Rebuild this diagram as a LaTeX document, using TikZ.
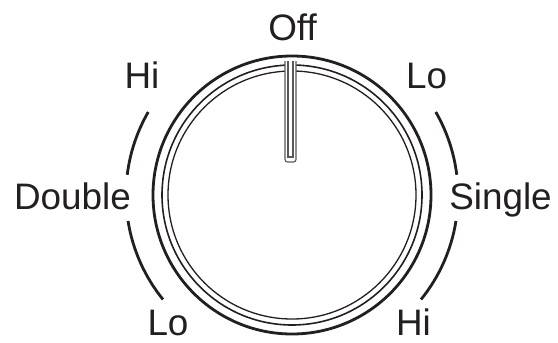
\documentclass[tikz,border=0pt]{standalone}
\usepackage{fontspec}
\setmainfont{Liberation Sans}
\definecolor{ink}{HTML}{231F20}
\begin{document}
\begin{tikzpicture}[x=1bp,y=1bp,
  lbl/.style={anchor=base,inner sep=0pt,text=ink,font=\fontsize{37}{40}\selectfont},
  arcline/.style={draw=ink,line width=2.8bp},
  ringA/.style={draw=ink,line width=2.8bp},
  ringB/.style={draw=ink,line width=1.6bp},
  ringC/.style={draw=ink,line width=1.3bp},
  ptr/.style={draw=ink!75,fill=white,line width=1.1bp}]
\useasboundingbox (0,0) rectangle (558,342);
\coordinate (c) at (292,147);
% rings
\draw[ringA] (c) circle[radius=139];
\draw[ringB] (c) circle[radius=130];
\draw[ringC] (c) circle[radius=124];
% pointer
\draw[ptr,rounded corners=2.5bp] (285,281) -- (285,180) -- (296,180) -- (296,281);
\draw[ptr] (288,281) -- (288,185) -- (293,185) -- (293,281);
% scale arcs
\draw[arcline] (c) ++(150:166) arc[start angle=150,end angle=173,radius=166];
\draw[arcline] (c) ++(189:166) arc[start angle=189,end angle=219,radius=166];
\draw[arcline] (c) ++(30:166) arc[start angle=30,end angle=7,radius=166];
\draw[arcline] (c) ++(-9:166) arc[start angle=-9,end angle=-39,radius=166];
% labels
\node[lbl] (off) at (292.5,302) {Off};
\node[lbl] (hiL) at (142,254) {Hi};
\node[lbl] (loR) at (426.5,254) {Lo};
\node[lbl] (dbl) at (72.5,133) {Double};
\node[lbl] (sgl) at (500.5,133) {Single};
\node[lbl] (loL) at (168,6.5) {Lo};
\node[lbl] (hiR) at (413.5,6.5) {Hi};
\end{tikzpicture}
\end{document}
